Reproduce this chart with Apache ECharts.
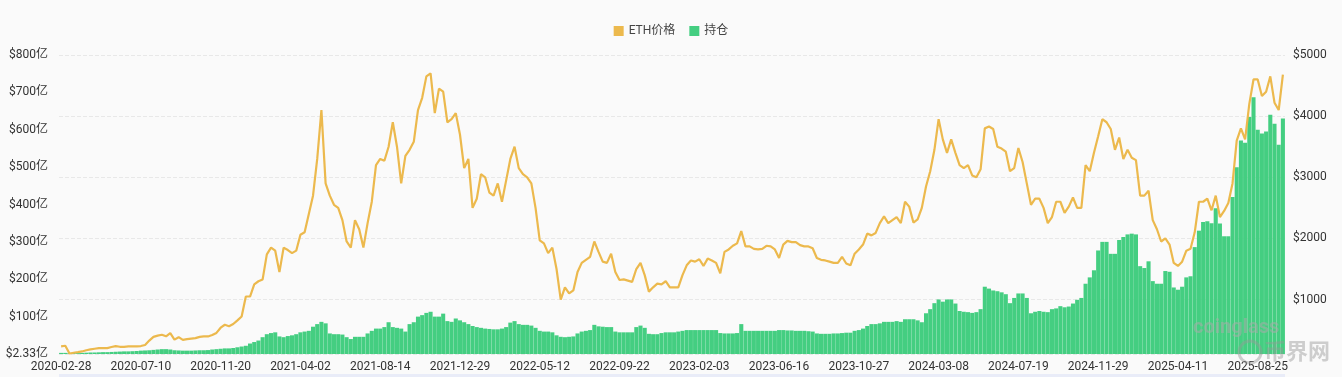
<!DOCTYPE html>
<html>
<head>
<meta charset="utf-8">
<title>ETH价格 / 持仓</title>
<script src="https://cdn.jsdelivr.net/npm/echarts@6/dist/echarts.min.js"></script>
<style>
  html, body { margin: 0; padding: 0; background: #fafafa; }
  #chart { width: 1342px; height: 377px; }
</style>
</head>
<body>
<div id="chart"></div>
<script>
// tick labels on the x axis, one every 19 weekly points
const tickDates = ['2020-02-28', '2020-07-10', '2020-11-20', '2021-04-02', '2021-08-14',
  '2021-12-29', '2022-05-12', '2022-09-22', '2023-02-03', '2023-06-16', '2023-10-27',
  '2024-03-08', '2024-07-19', '2024-11-29', '2025-04-11', '2025-08-25'];
const pointsPerTick = 19;
const weeksAfterLast = 6;

// ETH price (USD), weekly
const priceData = [
  235, 245, 118, 130, 140, 152, 172, 185, 196, 205, 207, 207, 225, 240, 228, 228, 234, 234, 234,
  240, 258, 330, 390, 410, 425, 400, 450, 345, 385, 340, 352, 362, 370, 390, 397, 397, 420, 455,
  540, 588, 565, 600, 660, 724, 1050, 1050, 1250, 1300, 1330, 1740, 1850, 1800, 1450, 1850, 1810, 1760, 1800,
  2060, 2100, 2400, 2700, 3300, 4100, 2900, 2700, 2550, 2500, 2300, 1950, 1850, 2300, 2150, 1850, 2250, 2600, 3200,
  3300, 3270, 3500, 3900, 3500, 2900, 3350, 3450, 3580, 4100, 4300, 4650, 4700, 4050, 4450, 4400, 3900, 3950, 4050,
  3700, 3150, 3300, 2500, 2650, 3050, 3000, 2750, 2700, 2900, 2600, 2950, 3300, 3500, 3150, 3050, 3000, 2900, 2500,
  1970, 1920, 1760, 1850, 1500, 1000, 1200, 1100, 1150, 1450, 1600, 1650, 1700, 1950, 1780, 1620, 1600, 1750, 1450,
  1320, 1330, 1310, 1290, 1500, 1600, 1400, 1130, 1200, 1260, 1250, 1300, 1200, 1200, 1200, 1400, 1560, 1640, 1620,
  1660, 1550, 1670, 1640, 1600, 1430, 1780, 1820, 1880, 1920, 2120, 1870, 1870, 1830, 1820, 1830, 1880, 1870, 1820,
  1680, 1900, 1960, 1940, 1940, 1890, 1870, 1870, 1840, 1680, 1650, 1640, 1620, 1600, 1600, 1700, 1590, 1560, 1750,
  1820, 1900, 2080, 2050, 2090, 2250, 2360, 2250, 2300, 2350, 2250, 2600, 2520, 2260, 2310, 2500, 2850, 3100, 3450,
  3950, 3620, 3400, 3620, 3400, 3200, 3150, 3200, 3030, 3000, 3130, 3800, 3830, 3790, 3500, 3470, 3420, 3100, 3150,
  3480, 3250, 2900, 2550, 2650, 2650, 2500, 2250, 2350, 2600, 2600, 2420, 2520, 2670, 2500, 2500, 3200, 3100, 3400,
  3670, 3950, 3900, 3790, 3450, 3650, 3300, 3450, 3320, 3280, 2700, 2700, 2780, 2300, 2150, 1950, 2000, 1900, 1600,
  1550, 1620, 1800, 1830, 2100, 2600, 2600, 2650, 2460, 2700, 2350, 2450, 2580, 2900, 3600, 3800, 3620, 4200, 4600,
  4600, 4330, 4400, 4650, 4220, 4100, 4680
];

// open interest (亿 USD), weekly
const oiData = [
  3, 3, 2.5, 2.5, 2.5, 3, 3.5, 4, 4, 4.5, 5, 5, 5.5, 6, 6.5, 7, 7, 7.5, 8,
  9, 9.5, 10, 11, 12, 13, 13, 12, 10, 9.5, 9, 9, 9, 9.5, 10, 10, 10.5, 12, 13,
  14, 15, 15, 16, 18, 20, 22, 28, 32, 36, 45, 53, 56, 58, 47, 45, 48, 50, 53,
  58, 60, 62, 73, 80, 86, 82, 55, 53, 53, 52, 45, 40, 46, 46, 46, 55, 62, 68,
  68, 72, 85, 72, 70, 68, 60, 80, 85, 100, 104, 110, 113, 100, 100, 108, 88, 86, 95,
  90, 85, 80, 75, 72, 70, 68, 67, 66, 66, 68, 72, 84, 88, 80, 78, 78, 76, 70,
  62, 60, 60, 58, 50, 46, 45, 46, 47, 55, 60, 62, 64, 78, 74, 73, 72, 72, 60,
  58, 58, 58, 58, 72, 76, 70, 54, 53, 53, 56, 58, 58, 58, 60, 62, 64, 64, 64,
  64, 64, 64, 64, 64, 56, 55, 55, 55, 56, 80, 62, 62, 62, 62, 62, 62, 62, 62,
  64, 64, 63, 63, 62, 62, 62, 61, 60, 55, 54, 54, 54, 55, 55, 56, 57, 57, 62,
  64, 68, 75, 80, 80, 82, 86, 86, 86, 88, 86, 93, 93, 93, 90, 85, 109, 120, 136,
  146, 140, 146, 146, 135, 115, 113, 112, 110, 112, 120, 180, 175, 170, 168, 165, 160, 136, 150,
  162, 162, 150, 109, 113, 115, 113, 112, 120, 122, 128, 125, 127, 135, 145, 150, 188, 205, 224,
  277, 300, 300, 268, 268, 305, 313, 320, 322, 320, 235, 230, 248, 195, 188, 188, 222, 220, 178,
  172, 180, 205, 208, 286, 330, 353, 355, 350, 390, 349, 315, 315, 420, 500, 571, 565, 634, 687,
  600, 590, 595, 640, 616, 560, 630
];
const oiMin = 2.33;

function buildCategories() {
  let cats = [];
  tickDates.forEach((d, i) => {
    const n = i < tickDates.length - 1 ? pointsPerTick : 1 + weeksAfterLast;
    const base = new Date(d + 'T00:00:00Z').getTime();
    for (let k = 0; k < n; k++) {
      cats.push(new Date(base + k * 7 * 86400000).toISOString().slice(0, 10));
    }
  });
  return cats;
}

const categories = buildCategories();
const font = 'Roboto, "Noto Sans CJK SC", sans-serif';

const myChart = echarts.init(document.getElementById('chart'));

let options = {
  backgroundColor: '#fafafa',
  animation: false,
  textStyle: { fontFamily: font },
  legend: {
    data: ['ETH价格', '持仓'],
    top: 20,
    icon: 'rect',
    itemWidth: 10,
    itemHeight: 10,
    itemGap: 14,
    textStyle: { color: '#444', fontSize: 12, fontFamily: font }
  },
  grid: { left: 59, right: 57, top: 55, bottom: 23 },
  xAxis: {
    type: 'category',
    data: categories,
    boundaryGap: true,
    axisLine: { show: false },
    axisTick: { show: false },
    axisLabel: { interval: pointsPerTick - 1, color: '#333', fontSize: 12, margin: 7 }
  },
  yAxis: [
    {
      type: 'value',
      position: 'left',
      min: 0,
      max: 800,
      interval: 100,
      splitLine: { show: false },
      axisLabel: {
        color: '#333',
        fontSize: 12,
        margin: 11,
        formatter: v => v === 0 ? '$' + oiMin + '亿' : '$' + v + '亿'
      }
    },
    {
      type: 'value',
      position: 'right',
      min: 110,
      max: 5000,
      splitNumber: 5,
      splitLine: { lineStyle: { type: 'dashed', color: '#e8e8e8' } },
      axisLabel: {
        color: '#333',
        fontSize: 12,
        showMinLabel: false,
        formatter: v => '$' + v
      }
    }
  ],
  series: [
    {
      name: '持仓',
      type: 'bar',
      yAxisIndex: 0,
      data: oiData,
      barCategoryGap: '3%',
      itemStyle: { color: '#44ce81' }
    },
    {
      name: 'ETH价格',
      type: 'line',
      yAxisIndex: 1,
      data: priceData,
      showSymbol: false,
      z: 3,
      lineStyle: { width: 2.2, color: '#ecb94d' },
      itemStyle: { color: '#ecb94d' }
    }
  ],
  graphic: [
    { type: 'text', left: 1193, top: 318, silent: true, z: 10,
      style: { text: 'coinglass', fontSize: 20, fontWeight: 'bold', fill: 'rgba(170,170,170,0.55)', fontFamily: font } },
    { type: 'circle', shape: { cx: 1250, cy: 352, r: 11 }, silent: true, z: 10,
      style: { fill: 'none', stroke: 'rgba(150,150,150,0.45)', lineWidth: 3 } },
    { type: 'text', left: 1264, top: 340, silent: true, z: 10,
      style: { text: '币界网', fontSize: 22, fontWeight: 'bold', fill: 'rgba(150,150,150,0.45)', fontFamily: '"Noto Sans CJK SC", sans-serif' } },
    { type: 'rect', shape: { x: 59, y: 374, width: 1226, height: 3 }, silent: true,
      style: { fill: '#e9ecf8' } }
  ]
};

myChart.setOption(options);

window.addEventListener('resize', () => {
  myChart.resize();
});
</script>
</body>
</html>
